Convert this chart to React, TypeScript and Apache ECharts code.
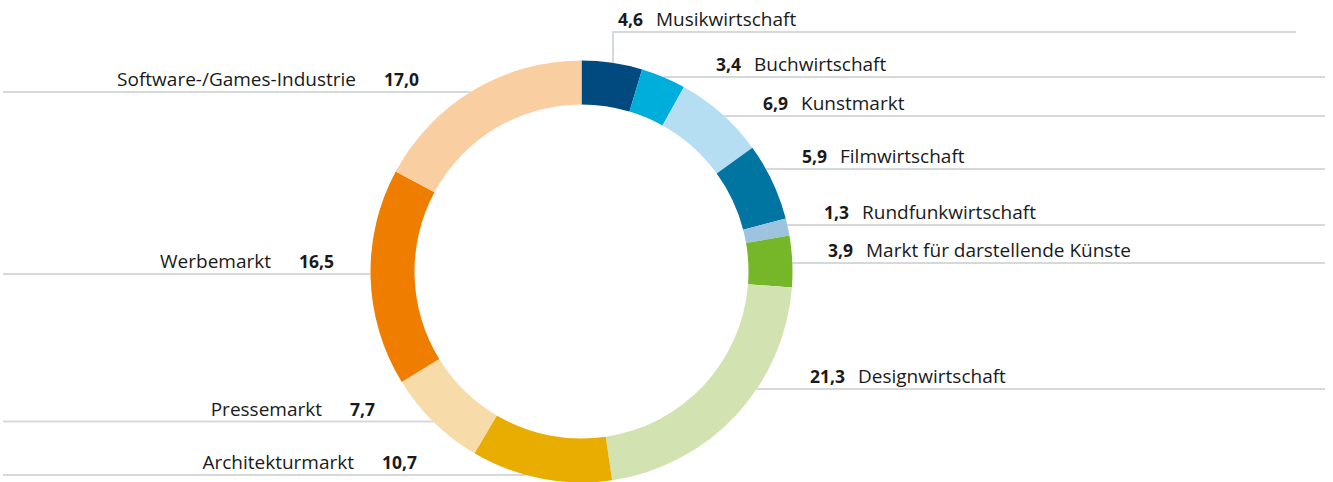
import React, { useEffect, useRef } from "react";
import * as echarts from "echarts";

const categories = [
  "Musikwirtschaft",
  "Buchwirtschaft",
  "Kunstmarkt",
  "Filmwirtschaft",
  "Rundfunkwirtschaft",
  "Markt für darstellende Künste",
  "Designwirtschaft",
  "Architekturmarkt",
  "Pressemarkt",
  "Werbemarkt",
  "Software-/Games-Industrie",
];
const values = [4.6, 3.4, 6.9, 5.9, 1.3, 3.9, 21.3, 10.7, 7.7, 16.5, 17.0];
const colors = [
  "#004a7f",
  "#00aedb",
  "#b5def2",
  "#0075a2",
  "#9dc3de",
  "#76b72a",
  "#d2e3b1",
  "#e8ad00",
  "#f7dcaa",
  "#ef7d00",
  "#f9cfa1",
];

// label placement (pixel layout, not data)
const CX = 581.5;
const CY = 271.5;
const R_OUT = 211;
const R_IN = 167;
type Lay = { side: "r" | "l"; lineY: number; textX: number; end: number; elbowX?: number };
const labelLayouts: Lay[] = [
  { side: "r", lineY: 32, textX: 618, end: 1296, elbowX: 613 },
  { side: "r", lineY: 77, textX: 716, end: 1325 },
  { side: "r", lineY: 116, textX: 763, end: 1325 },
  { side: "r", lineY: 169, textX: 802, end: 1325 },
  { side: "r", lineY: 225, textX: 824, end: 1325 },
  { side: "r", lineY: 263, textX: 828, end: 1325 },
  { side: "r", lineY: 389, textX: 810, end: 1325 },
  { side: "l", lineY: 475, textX: 417, end: 3 },
  { side: "l", lineY: 421.5, textX: 375, end: 3 },
  { side: "l", lineY: 274, textX: 334, end: 3 },
  { side: "l", lineY: 92, textX: 419, end: 3 },
];

const fmt = (v: number) => v.toFixed(1).replace(".", ",");

export default function App() {
  const ref = useRef<HTMLDivElement>(null);
  useEffect(() => {
    if (!ref.current) return;
    const chart = echarts.init(ref.current, undefined, { renderer: "svg" });
    const font = "'Open Sans', 'Noto Sans', sans-serif";
    chart.setOption({
      animation: false,
      backgroundColor: "#ffffff",
      series: [
        {
          type: "pie",
          center: [CX, CY],
          radius: [R_IN, R_OUT],
          startAngle: 90,
          clockwise: true,
          avoidLabelOverlap: false,
          silent: true,
          data: categories.map((name, i) => ({
            name,
            value: values[i],
            itemStyle: { color: colors[i] },
          })),
          label: {
            show: true,
            position: "outside",
            fontFamily: font,
            formatter: (p: any) => {
              const i = p.dataIndex;
              const v = fmt(values[i]);
              return labelLayouts[i].side === "r"
                ? `{vr|${v}}{n|${p.name}}`
                : `{n|${p.name}}{vl|${v}}`;
            },
            rich: {
              vr: {
                fontFamily: font,
                fontSize: 17.5,
                fontWeight: "bold",
                color: "#1a1a1a",
                padding: [0, 13, 0, 0],
              },
              vl: {
                fontFamily: font,
                fontSize: 17.5,
                fontWeight: "bold",
                color: "#1a1a1a",
                padding: [0, 0, 0, 28],
              },
              n: {
                fontFamily: font,
                fontSize: 19,
                color: "#1a1a1a",
              },
            },
          },
          labelLine: {
            show: true,
            smooth: false,
            lineStyle: { color: "#d5d9dc", width: 2 },
          },
          labelLayout: (params: any) => {
            const i = params.dataIndex;
            const L = labelLayouts[i];
            const dy = L.lineY - CY;
            const half = Math.sqrt(Math.max(R_OUT * R_OUT - dy * dy, 0));
            let pts: number[][];
            if (L.elbowX !== undefined) {
              const dx = L.elbowX - CX;
              const yTop = CY - Math.sqrt(R_OUT * R_OUT - dx * dx);
              pts = [
                [L.elbowX, yTop],
                [L.elbowX, L.lineY],
                [L.end, L.lineY],
              ];
            } else if (L.side === "r") {
              const x0 = CX + half;
              pts = [
                [x0, L.lineY],
                [x0 + 1, L.lineY],
                [L.end, L.lineY],
              ];
            } else {
              const x0 = CX - half;
              pts = [
                [x0, L.lineY],
                [x0 - 1, L.lineY],
                [L.end, L.lineY],
              ];
            }
            return {
              x: L.textX,
              y: L.lineY - 13,
              align: L.side === "r" ? "left" : "right",
              verticalAlign: "middle",
              labelLinePoints: pts,
            };
          },
        },
      ],
    });
    return () => chart.dispose();
  }, []);
  return (
    <div
      ref={ref}
      style={{ position: "absolute", left: 0, top: 0, width: 1333, height: 482, background: "#fff" }}
    />
  );
}
